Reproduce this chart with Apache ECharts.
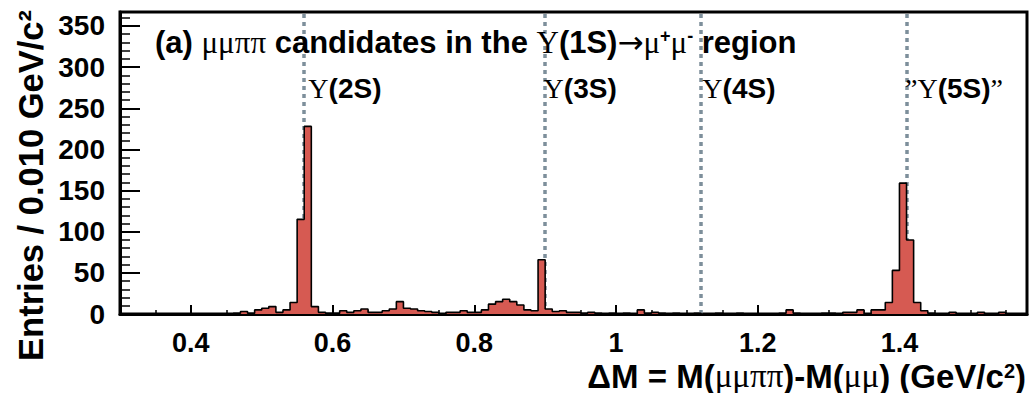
<!DOCTYPE html>
<html><head><meta charset="utf-8">
<script src="https://cdn.jsdelivr.net/npm/echarts@6/dist/echarts.min.js"></script>
<style>html,body{margin:0;padding:0;background:#fff}#c{width:1030px;height:393px}</style>
</head><body><div id="c"></div>
<script>
// ---- data ----
const binLow = 0.30;          // low edge of first bin (GeV/c^2)
const binWidth = 0.010;       // bin width (GeV/c^2)
const counts = [
  0, 0, 0, 0, 0, 0, 0, 0, 0, 0,          // 0.30-0.39
  0, 0, 0, 0, 0, 0, 1, 3, 1, 5,          // 0.40-0.49
  7, 9, 2, 5, 14, 115, 228, 9, 2, 1,     // 0.50-0.59
  1, 4, 2, 4, 6, 2, 2, 4, 6, 15,         // 0.60-0.69
  7, 6, 4, 3, 2, 0, 2, 2, 4, 2,          // 0.70-0.79
  2, 5, 12, 15, 18, 15, 11, 5, 4, 66,    // 0.80-0.89
  6, 3, 4, 2, 2, 1, 2, 1, 0, 1,          // 0.90-0.99
  0, 1, 0, 5, 1, 2, 1, 0, 1, 0,          // 1.00-1.09
  0, 1, 0, 0, 1, 0, 0, 1, 0, 0,          // 1.10-1.19
  0, 0, 0, 1, 5, 1, 0, 0, 0, 1,          // 1.20-1.29
  1, 0, 2, 2, 5, 0, 5, 5, 14, 53,        // 1.30-1.39
  159, 90, 14, 4, 1, 0, 0, 2, 0, 0,      // 1.40-1.49
  0, 2, 0, 0, 2, 0, 0, 0                 // 1.50-1.57
];
const xTickValues = [0.4, 0.6, 0.8, 1.0, 1.2, 1.4];
const xMin = 0.30, xMax = 1.58;
const yMin = 0, yMax = 367, yInterval = 50;
const peakPositions = [0.563, 0.895, 1.119, 1.405];
const peakLabels = [
  '{g|Υ}{b|(2S)}',
  '{g|Υ}{b|(3S)}',
  '{g|Υ}{b|(4S)}',
  '{g|”Υ}{b|(5S)}{g|”}'
];
const titleText = '{b|(a) }{g|μμππ}{b| candidates in the }{g|Υ}{b|(1S)}{a|→}{g|μ}{s|+}{g|μ}{s|-}{b| region}';
const xTitleText = '{b|ΔM = M(}{g|μμππ}{b|)-M(}{g|μμ}{b|) (GeV/c}{s|2}{b|)}';
const yTitleText = 'Entries / 0.010 GeV/c²';

// ---- chart ----
const SANS = '"Liberation Sans", Arial, Helvetica, sans-serif';
const SERIF = '"Liberation Serif", "Times New Roman", serif';
const histData = counts.map((c, i) => [+(binLow + i * binWidth).toFixed(3), c]);
histData.push([xMax, counts[counts.length - 1]]);

const chart = echarts.init(document.getElementById('c'), null, {renderer: 'svg'});
const labelFont = {fontSize: 27, fontWeight: 'bold', color: '#000', fontFamily: SANS, lineHeight: 24};

chart.setOption({
  animation: false,
  backgroundColor: '#fff',
  grid: {left: 120, right: 3, top: 12, bottom: 79, show: true, borderColor: '#000', borderWidth: 3, backgroundColor: '#fff'},
  xAxis: [
    {type: 'value', min: xMin, max: xMax, position: 'bottom',
     axisLine: {show: true, onZero: false, lineStyle: {color: '#000', width: 3}},
     axisTick: {show: true, inside: true, length: 9, customValues: xTickValues, lineStyle: {color: '#000', width: 2}},
     axisLabel: Object.assign({customValues: xTickValues, margin: 17}, labelFont),
     splitLine: {show: false}},
    {type: 'value', min: xMin, max: xMax, interval: 0.05, position: 'bottom',
     axisLine: {show: false, onZero: false},
     axisTick: {show: true, inside: true, length: 4, lineStyle: {color: '#000', width: 1.5}},
     axisLabel: {show: false}, splitLine: {show: false}}
  ],
  yAxis: {type: 'value', min: yMin, max: yMax, interval: yInterval,
    axisLine: {show: true, onZero: false, lineStyle: {color: '#000', width: 3}},
    axisTick: {show: true, inside: true, length: 20, lineStyle: {color: '#000', width: 2}},
    minorTick: {show: true, splitNumber: 5, length: 10, lineStyle: {color: '#000', width: 1.5}},
    axisLabel: Object.assign({margin: 15, showMaxLabel: false}, labelFont, {fontSize: 28}),
    splitLine: {show: false}},
  series: [
    {type: 'line', data: [], z: 1, xAxisIndex: 0,
     markLine: {symbol: 'none', silent: true, z: 1, label: {show: false},
       lineStyle: {type: [4, 4], color: '#7d8f9b', width: 3.5},
       data: peakPositions.map(v => ({xAxis: v}))}},
    {type: 'line', data: histData, step: 'end', symbol: 'none', z: 3, xAxisIndex: 0,
     lineStyle: {color: '#000', width: 1.6},
     areaStyle: {color: '#d65a52', opacity: 1}}
  ]
});

const richMain = {
  b: {font: 'bold 31px ' + SANS, fill: '#000'},
  g: {font: '31px ' + SERIF, fill: '#000'},
  a: {font: '31px "DejaVu Sans", sans-serif', fill: '#000'},
  s: {font: 'bold 18px ' + SANS, fill: '#000', verticalAlign: 'top'}
};
const richX = {
  b: {font: 'bold 33px ' + SANS, fill: '#000', lineHeight: 30},
  g: {font: '33px ' + SERIF, fill: '#000', lineHeight: 30},
  s: {font: 'bold 20px ' + SANS, fill: '#000', verticalAlign: 'top', lineHeight: 20}
};
const richPeak = {
  b: {font: 'bold 28px ' + SANS, fill: '#000'},
  g: {font: '28px ' + SERIF, fill: '#000'}
};
const graphics = [
  {type: 'text', x: 155, y: 42, z: 10,
   style: {text: titleText, rich: richMain, align: 'left', textAlign: 'left', verticalAlign: 'middle', textVerticalAlign: 'middle'}},
  {type: 'text', x: 1026, y: 376, z: 10,
   style: {text: xTitleText, rich: richX, align: 'right', textAlign: 'right', verticalAlign: 'middle', textVerticalAlign: 'middle'}},
  {type: 'text', x: 31, y: 10, rotation: Math.PI / 2, z: 10,
   style: {text: yTitleText, font: 'bold 34.5px ' + SANS, fill: '#000', align: 'right', textAlign: 'right', verticalAlign: 'middle', textVerticalAlign: 'middle'}}
];
peakPositions.forEach((v, i) => {
  const px = chart.convertToPixel({xAxisIndex: 0}, v);
  graphics.push({type: 'text', x: px + 2, y: 88, z: 10,
    style: {text: peakLabels[i], rich: richPeak, align: 'left', textAlign: 'left', verticalAlign: 'middle', textVerticalAlign: 'middle'}});
});
chart.setOption({graphic: graphics});
</script>
</body></html>
